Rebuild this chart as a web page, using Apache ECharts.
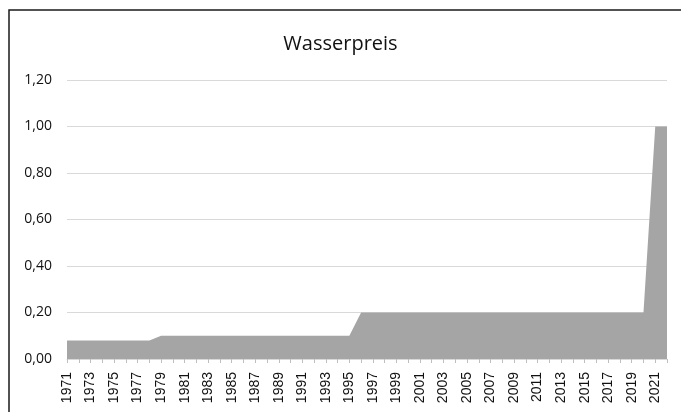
<!DOCTYPE html>
<html>
<head>
<meta charset="utf-8">
<script src="https://cdn.jsdelivr.net/npm/echarts@6/dist/echarts.min.js"></script>
<style>
html,body{margin:0;padding:0;background:#fff;}
#c{width:681px;height:412px;}
</style>
</head>
<body>
<div id="c"></div>
<script>
var years = [];
for (var y = 1971; y <= 2022; y++) years.push(String(y));
var prices = [
  0.08,0.08,0.08,0.08,0.08,0.08,0.08,0.08,
  0.10,0.10,0.10,0.10,0.10,0.10,0.10,0.10,0.10,0.10,0.10,0.10,0.10,0.10,0.10,0.10,0.10,
  0.20,0.20,0.20,0.20,0.20,0.20,0.20,0.20,0.20,0.20,0.20,0.20,0.20,0.20,0.20,0.20,0.20,0.20,0.20,0.20,0.20,0.20,0.20,0.20,0.20,
  1.00,1.00
];
var yTicks = {min: 0, max: 1.2, interval: 0.2};

var chart = echarts.init(document.getElementById('c'), null, {renderer: 'canvas'});
chart.setOption({
  animation: false,
  backgroundColor: '#fff',
  title: {
    text: 'Wasserpreis',
    left: 'center',
    top: 29,
    textStyle: {fontFamily: 'Open Sans', fontSize: 20, fontWeight: 'normal', color: '#111'}
  },
  graphic: [
    {type: 'polyline', shape: {points: [[9, 412], [9, 10], [681, 10]]},
     style: {stroke: '#1a1a1a', lineWidth: 1.5, fill: null}}
  ],
  grid: {left: 67, right: 14, top: 80, bottom: 53, containLabel: false},
  xAxis: {
    type: 'category',
    data: years,
    boundaryGap: false,
    axisLine: {show: true, lineStyle: {color: '#d9d9d9', width: 1}},
    axisTick: {show: true, interval: 0, length: 4, lineStyle: {color: '#bfbfbf'}},
    axisLabel: {interval: 1, rotate: 90, margin: 13, fontFamily: 'Liberation Sans', fontSize: 14, color: '#111'},
    splitLine: {show: false}
  },
  yAxis: {
    type: 'value',
    min: yTicks.min, max: yTicks.max, interval: yTicks.interval,
    axisLine: {show: false},
    axisTick: {show: false},
    axisLabel: {
      margin: 15, fontFamily: 'Open Sans', fontSize: 14, color: '#111',
      formatter: function (v) { return v.toFixed(2).replace('.', ','); }
    },
    splitLine: {show: true, lineStyle: {color: '#d9d9d9', width: 1}}
  },
  series: [{
    type: 'line',
    data: prices,
    symbol: 'none',
    lineStyle: {width: 0},
    areaStyle: {color: '#a5a5a5', opacity: 1},
    z: 3
  }]
});
</script>
</body>
</html>
